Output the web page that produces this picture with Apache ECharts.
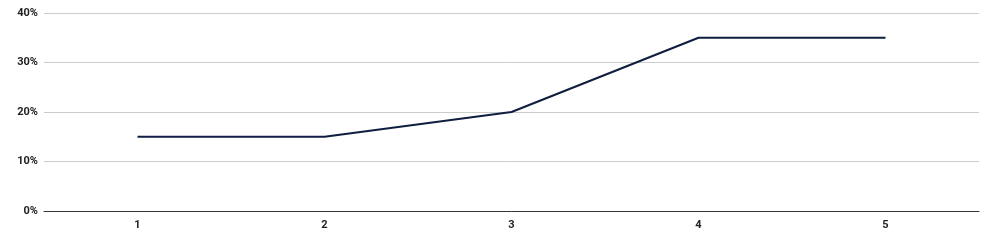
<!DOCTYPE html>
<html><head><meta charset="utf-8">
<script src="https://cdn.jsdelivr.net/npm/echarts@6/dist/echarts.min.js"></script>
<style>html,body{margin:0;padding:0;background:#fff}#c{width:994px;height:246px}</style>
</head><body><div id="c"></div>
<script>
const categories = ['1','2','3','4','5'];
const values = [15, 15, 20, 35, 35];
const chart = echarts.init(document.getElementById('c'));
chart.setOption({
  animation: false,
  grid: {left: 44, right: 15, top: 13, bottom: 35, containLabel: false},
  xAxis: {
    type: 'category', data: categories, boundaryGap: true,
    axisLine: {lineStyle: {color: '#333', width: 1}},
    axisTick: {show: false},
    axisLabel: {color: '#222', fontFamily: 'Roboto', fontWeight: 'bold', fontSize: 11, margin: 9}
  },
  yAxis: {
    type: 'value', min: 0, max: 40, interval: 10,
    axisLine: {show: false}, axisTick: {show: false},
    axisLabel: {formatter: '{value}%', color: '#222', fontFamily: 'Roboto', fontWeight: 'bold', fontSize: 11, margin: 6},
    splitLine: {lineStyle: {color: '#ccc', width: 1}}
  },
  series: [{
    type: 'line', data: values, symbol: 'none',
    lineStyle: {color: '#0f1d40', width: 2}
  }]
});
</script></body></html>
